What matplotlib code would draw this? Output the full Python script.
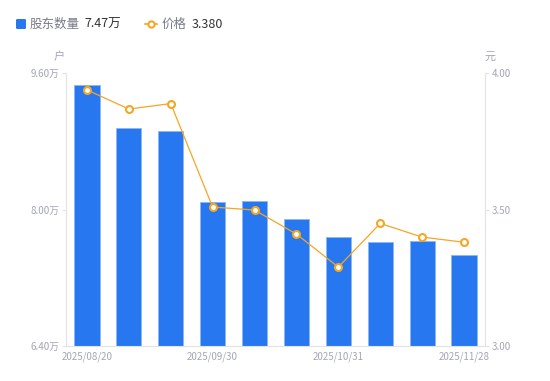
import matplotlib
matplotlib.use("Agg")
import matplotlib.pyplot as plt
from matplotlib.lines import Line2D
from matplotlib.patches import FancyBboxPatch

plt.rcParams['font.family'] = ['Noto Sans CJK SC', 'DejaVu Sans']

dates = ["2025/08/20", "", "", "2025/09/30", "", "", "2025/10/31", "", "", "2025/11/28"]
holders = [9.46, 8.955, 8.926, 8.09, 8.10, 7.894, 7.683, 7.619, 7.625, 7.47]  # 万户
price = [3.938, 3.868, 3.888, 3.509, 3.498, 3.410, 3.289, 3.449, 3.399, 3.380]
left_ticks = [6.40, 8.00, 9.60]
right_ticks = [3.00, 3.50, 4.00]

BLUE = "#2677F0"
ORANGE = "#F5A623"
GRAY = "#A3A6B4"
AXC = "#E3E3E6"
DARK = "#333333"

fig = plt.figure(figsize=(5.5, 3.81), dpi=100)
ax = fig.add_axes([66/550, 1-346/381, (485-66)/550, (346-73)/381])
x = list(range(len(holders)))
ax.bar(x, [h - 6.40 for h in holders], bottom=6.40, width=0.6, color=BLUE,
       edgecolor="#8DB6F7", linewidth=0.6, zorder=2)
ax.set_xlim(-0.5, len(holders) - 0.5)
ax.set_ylim(6.40, 9.60)
ax.set_yticks(left_ticks)
ax.set_yticklabels([f"{v:.2f}万" for v in left_ticks])
ax.set_xticks(x)
ax.set_xticklabels(dates)
ax.tick_params(axis='x', length=0, labelsize=7, colors=GRAY, pad=4)
ax.tick_params(axis='y', length=3, width=0.8, color=AXC, labelsize=7, labelcolor=GRAY, pad=1.5)
for s in ['top', 'right']:
    ax.spines[s].set_visible(False)
for s in ['left', 'bottom']:
    ax.spines[s].set_color(AXC)
    ax.spines[s].set_linewidth(0.8)

ax2 = ax.twinx()
ax2.plot(x, price, color=ORANGE, linewidth=0.9, marker='o', markersize=5,
         markerfacecolor='white', markeredgecolor=ORANGE, markeredgewidth=1.5, zorder=3)
ax2.set_ylim(3.00, 4.00)
ax2.set_yticks(right_ticks)
ax2.set_yticklabels([f"{v:.2f}" for v in right_ticks])
ax2.tick_params(axis='y', length=3, width=0.8, color=AXC, labelsize=7, labelcolor=GRAY, pad=2)
for s in ['top', 'left', 'bottom']:
    ax2.spines[s].set_visible(False)
ax2.spines['right'].set_color(AXC)
ax2.spines['right'].set_linewidth(0.8)

fig.text(59/550, 1-57/381, "户", fontsize=8, color=GRAY, ha='center', va='center')
fig.text(490/550, 1-57/381, "元", fontsize=8, color=GRAY, ha='center', va='center')

# legend
fig.patches.append(FancyBboxPatch((16/550, 1-29/381), 10/550, 10/381,
                                  boxstyle="round,pad=0,rounding_size=0.003",
                                  transform=fig.transFigure, facecolor=BLUE, edgecolor='none'))
fig.text(30/550, 1-24/381, "股东数量", fontsize=9, color="#777A88", ha='left', va='center')
fig.text(84/550, 1-24/381, "7.47万", fontsize=9, color=DARK, ha='left', va='center')
fig.lines.append(Line2D([145/550, 157/550], [1-24/381, 1-24/381], transform=fig.transFigure,
                        color=ORANGE, linewidth=1.2))
fig.lines.append(Line2D([151/550], [1-24/381], transform=fig.transFigure, marker='o',
                        markersize=4.5, markerfacecolor='white', markeredgecolor=ORANGE,
                        markeredgewidth=1.5, linestyle='none'))
fig.text(162/550, 1-24/381, "价格", fontsize=9, color="#777A88", ha='left', va='center')
fig.text(192/550, 1-24/381, "3.380", fontsize=9, color=DARK, ha='left', va='center')

fig.savefig("out.png", dpi=100)
